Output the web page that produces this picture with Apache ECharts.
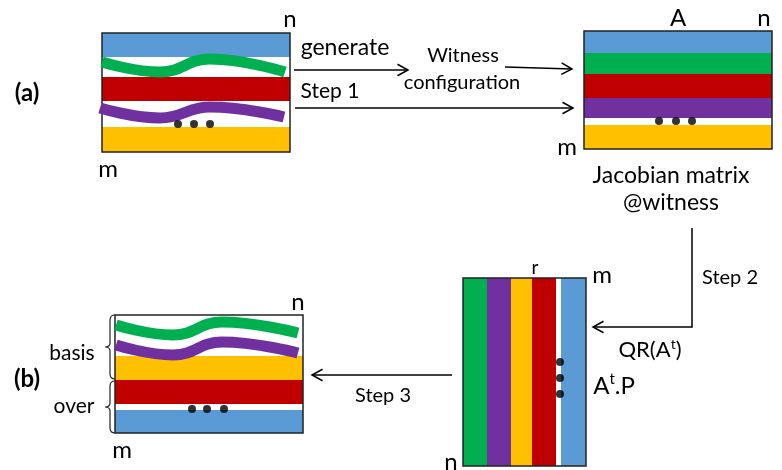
<!DOCTYPE html>
<html>
<head>
<meta charset="utf-8">
<script src="https://cdn.jsdelivr.net/npm/echarts@6/dist/echarts.min.js"></script>
<style>html,body{margin:0;padding:0;background:#fff}#c{width:782px;height:470px}</style>
</head>
<body>
<div id="c"></div>
<script>
// ---- diagram data (diagram space: x 0..782, y 0..470, y downward) ----
const palette = { blue: '#5B9BD5', green: '#00B050', red: '#C00000', purple: '#7030A0', yellow: '#FFC000' };

// colored stripes: [x0, y0, x1, y1, colour]
const stripes = [
  // (a) input matrix
  [102, 33, 290, 57, 'blue'],
  [102, 77, 290, 101, 'red'],
  [102, 127, 290, 152, 'yellow'],
  // A (Jacobian)
  [584, 31, 772, 53, 'blue'],
  [584, 53, 772, 74, 'green'],
  [584, 74, 772, 98, 'red'],
  [584, 98, 772, 118, 'purple'],
  [584, 125, 772, 149, 'yellow'],
  // A^t.P (tall)
  [463, 278, 487, 466, 'green'],
  [487, 278, 511, 466, 'purple'],
  [511, 278, 532, 466, 'yellow'],
  [532, 278, 556, 466, 'red'],
  [561, 278, 586, 466, 'blue'],
  // (b) result
  [115, 356, 303, 380, 'yellow'],
  [115, 380, 303, 404, 'red'],
  [115, 410, 303, 433, 'blue']
];

// matrix frames: [x0, y0, x1, y1]
const frames = [
  [102, 33, 290, 152],
  [584, 31, 772, 149],
  [463, 278, 586, 466],
  [115, 315, 303, 433]
];

// wavy rows (curves through points)
const waveGreenA = [[102, 62], [160, 72], [210, 59], [285, 72]];
const wavePurpleA = [[100, 108], [160, 118], [210, 107], [284, 117]];
const waveGreenB = [[116, 325], [173, 335], [222, 322], [298, 333]];
const wavePurpleB = [[116, 345], [173, 355], [222, 342], [298, 353]];

// ellipsis dots
const dots = [
  [178, 124], [194, 124], [210, 124],
  [659, 121], [676, 121], [692, 121],
  [560, 362], [560, 378], [560, 394],
  [192, 409], [207, 409], [224, 409]
];

// arrows: polyline points, head at last point
const arrows = [
  [[294, 70], [408, 70]],
  [[505, 67], [572, 69]],
  [[295, 108], [573, 108]],
  [[692, 228], [692, 327], [593, 327]],
  [[452, 375], [312, 375]]
];

// braces: [x, yTop, yBottom]
const braces = [
  [110, 315, 379],
  [110, 381, 433]
];

// text labels
const labelTexts = ['(a)', '(b)', 'n', 'm', 'generate', 'Witness', 'configuration', 'Step 1',
  'A', 'n', 'm', 'Jacobian matrix', '@witness', 'Step 2', '{b|QR(A}{s|t}{b|)}', 'r', 'm', 'n',
  '{b|A}{s|t}{b|.P}', 'Step 3', 'n', 'm', 'basis', 'over'];
const labelAnchors = [[27, 93], [27, 379], [290, 19], [108, 169], [345, 48], [463, 56], [462, 83], [330, 91],
  [678, 18], [764, 18], [567, 147], [671, 176], [671, 203], [730, 278], [650, 350], [535, 268], [602, 275], [451, 462],
  [614, 386], [383, 396], [298, 302], [122, 450], [72, 353], [74, 406]];
const labelSizes = [24, 24, 24, 24, 23, 20, 20, 21,
  24, 24, 24, 23, 23, 20, 22, 19, 24, 24,
  24, 20, 24, 24, 21, 21];
const labelBold = [1, 1, 0, 0, 0, 0, 0, 0, 0, 0, 0, 0, 0, 0, 0, 0, 0, 0, 0, 0, 0, 0, 0, 0];

const FONT = 'Lato, sans-serif';

const chart = echarts.init(document.getElementById('c'), null, { renderer: 'canvas' });

function waveSeries(pts, col) {
  return {
    type: 'line', data: pts, smooth: 0.45, symbol: 'none', z: 5,
    lineStyle: { color: palette[col], width: 11, cap: 'butt' },
    silent: true, animation: false
  };
}

chart.setOption({
  animation: false,
  backgroundColor: '#ffffff',
  grid: { left: 0, right: 0, top: 0, bottom: 0 },
  xAxis: { type: 'value', min: 0, max: 782, show: false },
  yAxis: { type: 'value', min: 0, max: 470, inverse: true, show: false },
  series: [
    {
      type: 'custom', z: 2, silent: true,
      data: stripes.map((s, i) => [s[0], s[1], s[2], s[3], i]),
      renderItem: function (params, api) {
        const p0 = api.coord([api.value(0), api.value(1)]);
        const p1 = api.coord([api.value(2), api.value(3)]);
        const col = palette[stripes[api.value(4)][4]];
        return { type: 'rect', shape: { x: p0[0], y: p0[1], width: p1[0] - p0[0], height: p1[1] - p0[1] },
          style: { fill: col } };
      }
    },
    {
      type: 'custom', z: 3, silent: true,
      data: frames,
      renderItem: function (params, api) {
        const p0 = api.coord([api.value(0), api.value(1)]);
        const p1 = api.coord([api.value(2), api.value(3)]);
        return { type: 'rect', shape: { x: p0[0], y: p0[1], width: p1[0] - p0[0], height: p1[1] - p0[1] },
          style: { fill: 'none', stroke: '#222', lineWidth: 1.5 } };
      }
    },
    waveSeries(waveGreenA, 'green'),
    waveSeries(wavePurpleA, 'purple'),
    waveSeries(waveGreenB, 'green'),
    waveSeries(wavePurpleB, 'purple'),
    {
      type: 'scatter', data: dots, symbolSize: 8, z: 6, silent: true,
      itemStyle: { color: '#000' }
    },
    {
      type: 'custom', z: 7, silent: true,
      data: arrows.map((a, i) => [i]),
      renderItem: function (params, api) {
        const pts = arrows[api.value(0)].map(p => api.coord(p));
        const n = pts.length;
        const a = pts[n - 2], b = pts[n - 1];
        const ang = Math.atan2(b[1] - a[1], b[0] - a[0]);
        const L = 12, W = 0.5;
        const h1 = [b[0] - L * Math.cos(ang - W), b[1] - L * Math.sin(ang - W)];
        const h2 = [b[0] - L * Math.cos(ang + W), b[1] - L * Math.sin(ang + W)];
        return { type: 'group', children: [
          { type: 'polyline', shape: { points: pts }, style: { stroke: '#000', lineWidth: 1.5, fill: null } },
          { type: 'polyline', shape: { points: [h1, b, h2] }, style: { stroke: '#000', lineWidth: 1.5, fill: null } }
        ] };
      }
    },
    {
      type: 'custom', z: 7, silent: true,
      data: braces,
      renderItem: function (params, api) {
        const x = api.value(0), y0 = api.value(1), y1 = api.value(2);
        const ym = (y0 + y1) / 2;
        const P = (xx, yy) => api.coord([xx, yy]);
        const a = P(x + 5, y0), b = P(x, y0 + 5), c = P(x, ym - 4), d = P(x - 5, ym),
          e = P(x, ym + 4), f = P(x, y1 - 5), g = P(x + 5, y1);
        const q1 = P(x, y0), q2 = P(x, ym), q3 = P(x, ym), q4 = P(x, y1);
        const path = 'M' + a + ' Q' + q1 + ' ' + b + ' L' + c + ' Q' + q2 + ' ' + d +
          ' Q' + q3 + ' ' + e + ' L' + f + ' Q' + q4 + ' ' + g;
        return { type: 'path', shape: { pathData: path.replace(/,/g, ' ') },
          style: { stroke: '#222', lineWidth: 1.2, fill: null } };
      }
    },
    {
      type: 'custom', z: 8, silent: true,
      data: labelAnchors.map((p, i) => [p[0], p[1], i]),
      renderItem: function (params, api) {
        const i = api.value(2);
        const p = api.coord([api.value(0), api.value(1)]);
        const sz = labelSizes[i];
        const ss = Math.round(sz * 0.62);
        return { type: 'text', x: p[0], y: p[1],
          style: { text: labelTexts[i], fill: '#000', align: 'center', verticalAlign: 'middle',
            fontSize: sz, fontFamily: FONT, fontWeight: labelBold[i] ? 'bold' : 'normal',
            rich: {
              b: { fontSize: sz, fontFamily: FONT, fill: '#000', lineHeight: sz + 4 },
              s: { fontSize: ss, fontFamily: FONT, fill: '#000', verticalAlign: 'top', lineHeight: ss + 2 }
            } } };
      }
    }
  ]
});
</script>
</body>
</html>
